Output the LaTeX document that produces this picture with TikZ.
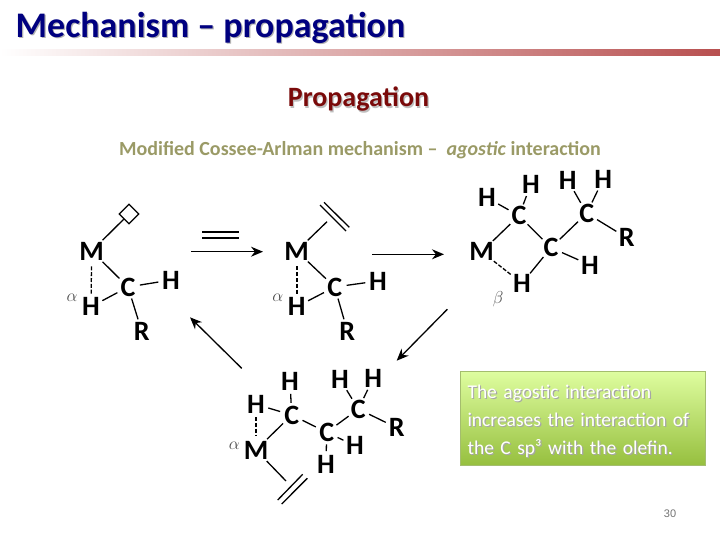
\documentclass[tikz,border=0pt]{standalone}
\usepackage{fontspec}
\setmainfont{Carlito}
\newfontfamily\pagefont{Liberation Sans}
\usetikzlibrary{arrows.meta,shapes.geometric}
\definecolor{titleblue}{HTML}{000080}
\definecolor{headred}{HTML}{7A0A0A}
\definecolor{subolive}{HTML}{9A9A66}
\definecolor{rulered}{HTML}{B85050}
\definecolor{boxtop}{HTML}{DEFD9F}
\definecolor{boxbot}{HTML}{96BF3E}
\definecolor{boxline}{HTML}{A4BD6E}
\newcommand{\softshadow}[2]{\leavevmode\rlap{\kern1.2pt\raisebox{-1.2pt}{\color{#1}#2}}#2}
\tikzset{
  atom/.style={circle, inner sep=0pt, minimum size=22pt, font=\fontsize{28}{28}\selectfont\bfseries},
  bond/.style={line width=1.3pt},
  dashbond/.style={line width=1.3pt, dash pattern=on 4pt off 1.8pt},
  olefin/.style={line width=1.3pt},
  react/.style={line width=1.3pt, -{Stealth[length=12pt,width=10pt]}},
  greek/.style={font=\fontsize{18}{18}\selectfont, text=black!70}
}

\begin{document}
\begin{tikzpicture}[x=1pt, y=-1pt]
  \useasboundingbox (0,0) rectangle (720,540);
  \shade[left color=white, right color=rulered] (0,49.5) rectangle (720,55.7);
  \node[text=titleblue, font=\fontsize{36}{36}\selectfont\bfseries] (title) at (210.5,28) {\softshadow{black!30}{Mechanism – propagation}};
  \node[text=headred, font=\fontsize{28}{28}\selectfont\bfseries] (head) at (358.5,100) {\softshadow{black!25}{Propagation}};
  \node[text=subolive, font=\fontsize{20}{20}\selectfont\bfseries] (sub) at (360,150) {Modified Cossee-Arlman mechanism – \ \textit{agostic} interaction};

  \node[atom] (m1) at (91.7,251) {M};
  \node[atom] (h1a) at (91,306.7) {H};
  \node[atom] (c1) at (128,287) {C};
  \node[atom] (h1b) at (171,280) {H};
  \node[atom] (r1) at (141.7,331) {R};
  \node[diamond, draw, line width=1.2pt, inner sep=0pt, minimum size=20pt] (vac) at (129,214) {};
  \node[greek] (al1) at (72,297.7) {$\alpha$};
  \draw[bond] (m1) -- (vac);
  \draw[bond] (m1) -- (c1);
  \draw[dashbond] (m1) -- (h1a);
  \draw[bond] (h1a) -- (c1);
  \draw[bond] (c1) -- (h1b);
  \draw[bond] (c1) -- (r1);

  \coordinate (e1a) at (202,232);
  \coordinate (e1b) at (239,232);
  \coordinate (e2a) at (202,237.6);
  \coordinate (e2b) at (239,237.6);
  \draw[line width=1.8pt] (e1a) -- (e1b);
  \draw[line width=1.8pt] (e2a) -- (e2b);
  \coordinate (a1s) at (191,251.7);
  \coordinate (a1e) at (263,251.7);
  \draw[react] (a1s) -- (a1e);

  \node[atom] (m2) at (296.7,251) {M};
  \node[atom] (h2a) at (296.7,306.7) {H};
  \node[atom] (c2) at (334.7,287) {C};
  \node[atom] (h2b) at (378,281) {H};
  \node[atom] (r2) at (347.3,331) {R};
  \node[greek] (al2) at (277.7,297.7) {$\alpha$};
  \coordinate (o2) at (327,221.7);
  \coordinate (o2a) at (320,205);
  \coordinate (o2b) at (346,231);
  \coordinate (o2c) at (324,202.3);
  \coordinate (o2d) at (349.3,227.3);
  \draw[bond] (m2) -- (o2);
  \draw[olefin] (o2a) -- (o2b);
  \draw[olefin] (o2c) -- (o2d);
  \draw[bond] (m2) -- (c2);
  \draw[line width=2.4pt, dash pattern=on 4pt off 1.8pt] (m2) -- (h2a);
  \draw[bond] (h2a) -- (c2);
  \draw[bond] (c2) -- (h2b);
  \draw[bond] (c2) -- (r2);

  \coordinate (a2s) at (372,254.3);
  \coordinate (a2e) at (444,254.3);
  \draw[react] (a2s) -- (a2e);

  \node[atom] (m3) at (481.7,251.7) {M};
  \node[atom] (h3a) at (522,283.3) {H};
  \node[atom] (c3a) at (519,215.7) {C};
  \node[atom] (h3b) at (487,197.7) {H};
  \node[atom] (h3c) at (531,184) {H};
  \node[atom] (c3b) at (551,247.7) {C};
  \node[atom] (h3d) at (590,265) {H};
  \node[atom] (c3c) at (586.7,213.3) {C};
  \node[atom] (h3e) at (567.7,180) {H};
  \node[atom] (h3f) at (603.3,179) {H};
  \node[atom] (r3) at (626.7,237.7) {R};
  \node[greek] (be3) at (498,299) {$\beta$};
  \draw[bond] (m3) -- (c3a);
  \draw[dashbond] (m3) -- (h3a);
  \draw[bond] (h3a) -- (c3b);
  \draw[bond] (c3a) -- (h3b);
  \draw[bond] (c3a) -- (h3c);
  \draw[bond] (c3a) -- (c3b);
  \draw[bond] (c3b) -- (h3d);
  \draw[bond] (c3b) -- (c3c);
  \draw[bond] (c3c) -- (h3e);
  \draw[bond] (c3c) -- (h3f);
  \draw[bond] (c3c) -- (r3);

  \coordinate (a3s) at (447.3,309.3);
  \coordinate (a3e) at (396.7,360.7);
  \draw[react] (a3s) -- (a3e);
  \coordinate (a4s) at (241.7,368.3);
  \coordinate (a4e) at (190,317.3);
  \draw[react] (a4s) -- (a4e);

  \node[atom] (m4) at (256,450) {M};
  \node[atom] (h4a) at (256,404.3) {H};
  \node[atom] (h4b) at (290,381) {H};
  \node[atom] (c4a) at (291.7,415) {C};
  \node[atom] (c4b) at (326.7,432.3) {C};
  \node[atom] (h4c) at (326,464) {H};
  \node[atom] (h4d) at (355,445.7) {H};
  \node[atom] (c4c) at (358.3,409) {C};
  \node[atom] (h4e) at (340,379.3) {H};
  \node[atom] (h4f) at (373.3,378.3) {H};
  \node[atom] (r4) at (396.7,427.7) {R};
  \node[greek] (al4) at (234.3,445.7) {$\alpha$};
  \coordinate (o4) at (286,481);
  \coordinate (o4a) at (277.7,500);
  \coordinate (o4b) at (302.7,474.3);
  \coordinate (o4c) at (281.7,504);
  \coordinate (o4d) at (307.3,478.3);
  \draw[bond] (m4) -- (o4);
  \draw[olefin] (o4a) -- (o4b);
  \draw[olefin] (o4c) -- (o4d);
  \draw[dashbond] (h4a) -- (m4);
  \draw[bond] (m4) -- (c4a);
  \draw[bond] (h4a) -- (c4a);
  \draw[bond] (h4b) -- (c4a);
  \draw[bond] (c4a) -- (c4b);
  \draw[bond] (c4b) -- (h4c);
  \draw[bond] (c4b) -- (h4d);
  \draw[bond] (c4b) -- (c4c);
  \draw[bond] (c4c) -- (h4e);
  \draw[bond] (c4c) -- (h4f);
  \draw[bond] (c4c) -- (r4);

  \node[draw=boxline, line width=0.8pt, top color=boxtop, bottom color=boxbot, minimum width=245pt, minimum height=94pt, inner sep=0pt, text width=230pt, align=left, text=white, font=\fontsize{19.5}{28}\selectfont] (note) at (582.5,418.7) {\rule{0pt}{19.5pt}\softshadow{black!35}{The agostic interaction}\\ \softshadow{black!35}{increases the interaction of}\\ \softshadow{black!35}{the C sp³ with the olefin.}};
  \node[text=black!55, font=\fontsize{11}{11}\selectfont\pagefont] (pagenum) at (670,514) {30};
\end{tikzpicture}
\end{document}
